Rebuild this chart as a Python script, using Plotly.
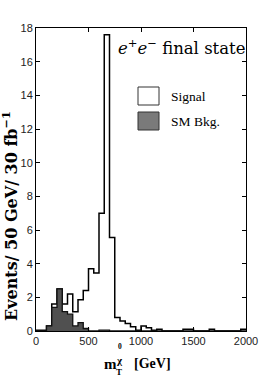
import plotly.graph_objects as go

# ---------------- data ----------------
BIN_WIDTH = 50
bin_left = list(range(0, 2000, BIN_WIDTH))  # GeV, left edges
signal = [0.05, 0.05, 0.3, 1.6, 2.5, 1.6, 2.2, 1.15, 1.85, 2.4,
          3.7, 3.45, 7.0, 17.6, 5.55, 0.8, 0.6, 0.45, 0.25, 0.05,
          0.3, 0.2, 0.05, 0.1, 0, 0, 0, 0, 0.1, 0.1,
          0, 0, 0, 0.1, 0, 0, 0, 0, 0, 0.1]
sm_bkg = [0, 0, 0.3, 1.4, 2.5, 1.15, 1.0, 0.3, 0.5, 0.15,
          0, 0, 0.05, 0.05, 0, 0, 0, 0, 0, 0,
          0, 0, 0, 0, 0, 0, 0, 0, 0, 0,
          0, 0, 0, 0, 0, 0, 0, 0, 0, 0]
x_ticks = [0, 500, 1000, 1500, 2000]
y_ticks = list(range(0, 19, 2))

# ---------------- geometry ----------------
W, H = 273, 377
L, R, T, B = 36, 27, 28, 46
PW, PH = W - L - R, H - T - B


def px(xp):
    return (xp - L) / PW


def py(yp):
    return (H - B - yp) / PH


def stair(vals):
    xs = bin_left + [bin_left[-1] + BIN_WIDTH]
    ys = list(vals) + [vals[-1]]
    return xs, ys


fig = go.Figure()
sx, sy = stair(signal)
fig.add_trace(go.Scatter(x=sx, y=sy, mode="lines", line=dict(shape="hv", color="black", width=1.5),
                         fill="tozeroy", fillcolor="white", showlegend=False, hoverinfo="skip"))
bx, by = stair(sm_bkg)
fig.add_trace(go.Scatter(x=bx, y=by, mode="lines", line=dict(shape="hv", color="#111111", width=1.3),
                         fill="tozeroy", fillcolor="#505050", showlegend=False, hoverinfo="skip"))

tickfont = dict(family="Liberation Sans, Arial, sans-serif", size=11, color="#222")
fig.update_xaxes(range=[0, 2000], tickvals=x_ticks, ticktext=[str(v) for v in x_ticks],
                 ticks="inside", ticklen=4, tickcolor="black", showline=True, linecolor="black",
                 linewidth=1, mirror="ticks", showgrid=False, zeroline=False, tickfont=tickfont)
fig.update_yaxes(range=[0, 18], tickvals=y_ticks, ticktext=[str(v) for v in y_ticks],
                 ticks="inside", ticklen=4, tickcolor="black", showline=True, linecolor="black",
                 linewidth=1, mirror="ticks", showgrid=False, zeroline=False, tickfont=tickfont)

serif = "DejaVu Serif, serif"
times = "Liberation Serif, Times New Roman, serif"


def note(xp, yp, text, family, size, xanchor="center", angle=0):
    return dict(x=px(xp), y=py(yp), xref="paper", yref="paper", showarrow=False, text=text,
                font=dict(family=family, size=size, color="black"), xanchor=xanchor,
                yanchor="middle", textangle=angle, borderpad=0)


ann = [
    note(181, 47, "<i>e</i><sup>+</sup><i>e</i><sup>−</sup> final state", serif, 16.5),
    note(170, 96, "Signal", times, 13.5, xanchor="left"),
    note(170, 121, "SM Bkg.", times, 13.5, xanchor="left"),
    note(10, 216, "<b>Events/ 50 GeV/ 30 fb<sup>−1</sup></b>", serif, 16, angle=-90),
    note(110, 364, "<b>m</b>", times, 15),
    note(119, 360, "<b>χ</b>", times, 11),
    note(120, 346.5, "<b>0</b>", times, 7.5),
    note(118.5, 371.5, "<b>T</b>", times, 9),
    note(152, 363, "<b>[GeV]</b>", times, 14),
]

shapes = [
    dict(type="rect", xref="paper", yref="paper", x0=px(138), x1=px(159), y0=py(105), y1=py(87),
         fillcolor="white", line=dict(color="#333", width=1)),
    dict(type="rect", xref="paper", yref="paper", x0=px(138), x1=px(159), y0=py(130), y1=py(112),
         fillcolor="#7a7a7a", line=dict(color="#333", width=1)),
]

fig.update_layout(width=W, height=H, margin=dict(l=L, r=R, t=T, b=B),
                  paper_bgcolor="white", plot_bgcolor="white", annotations=ann, shapes=shapes,
                  showlegend=False)
fig.write_html("out.html", config={"displayModeBar": False},
               post_script="document.body.style.margin='0px';")
